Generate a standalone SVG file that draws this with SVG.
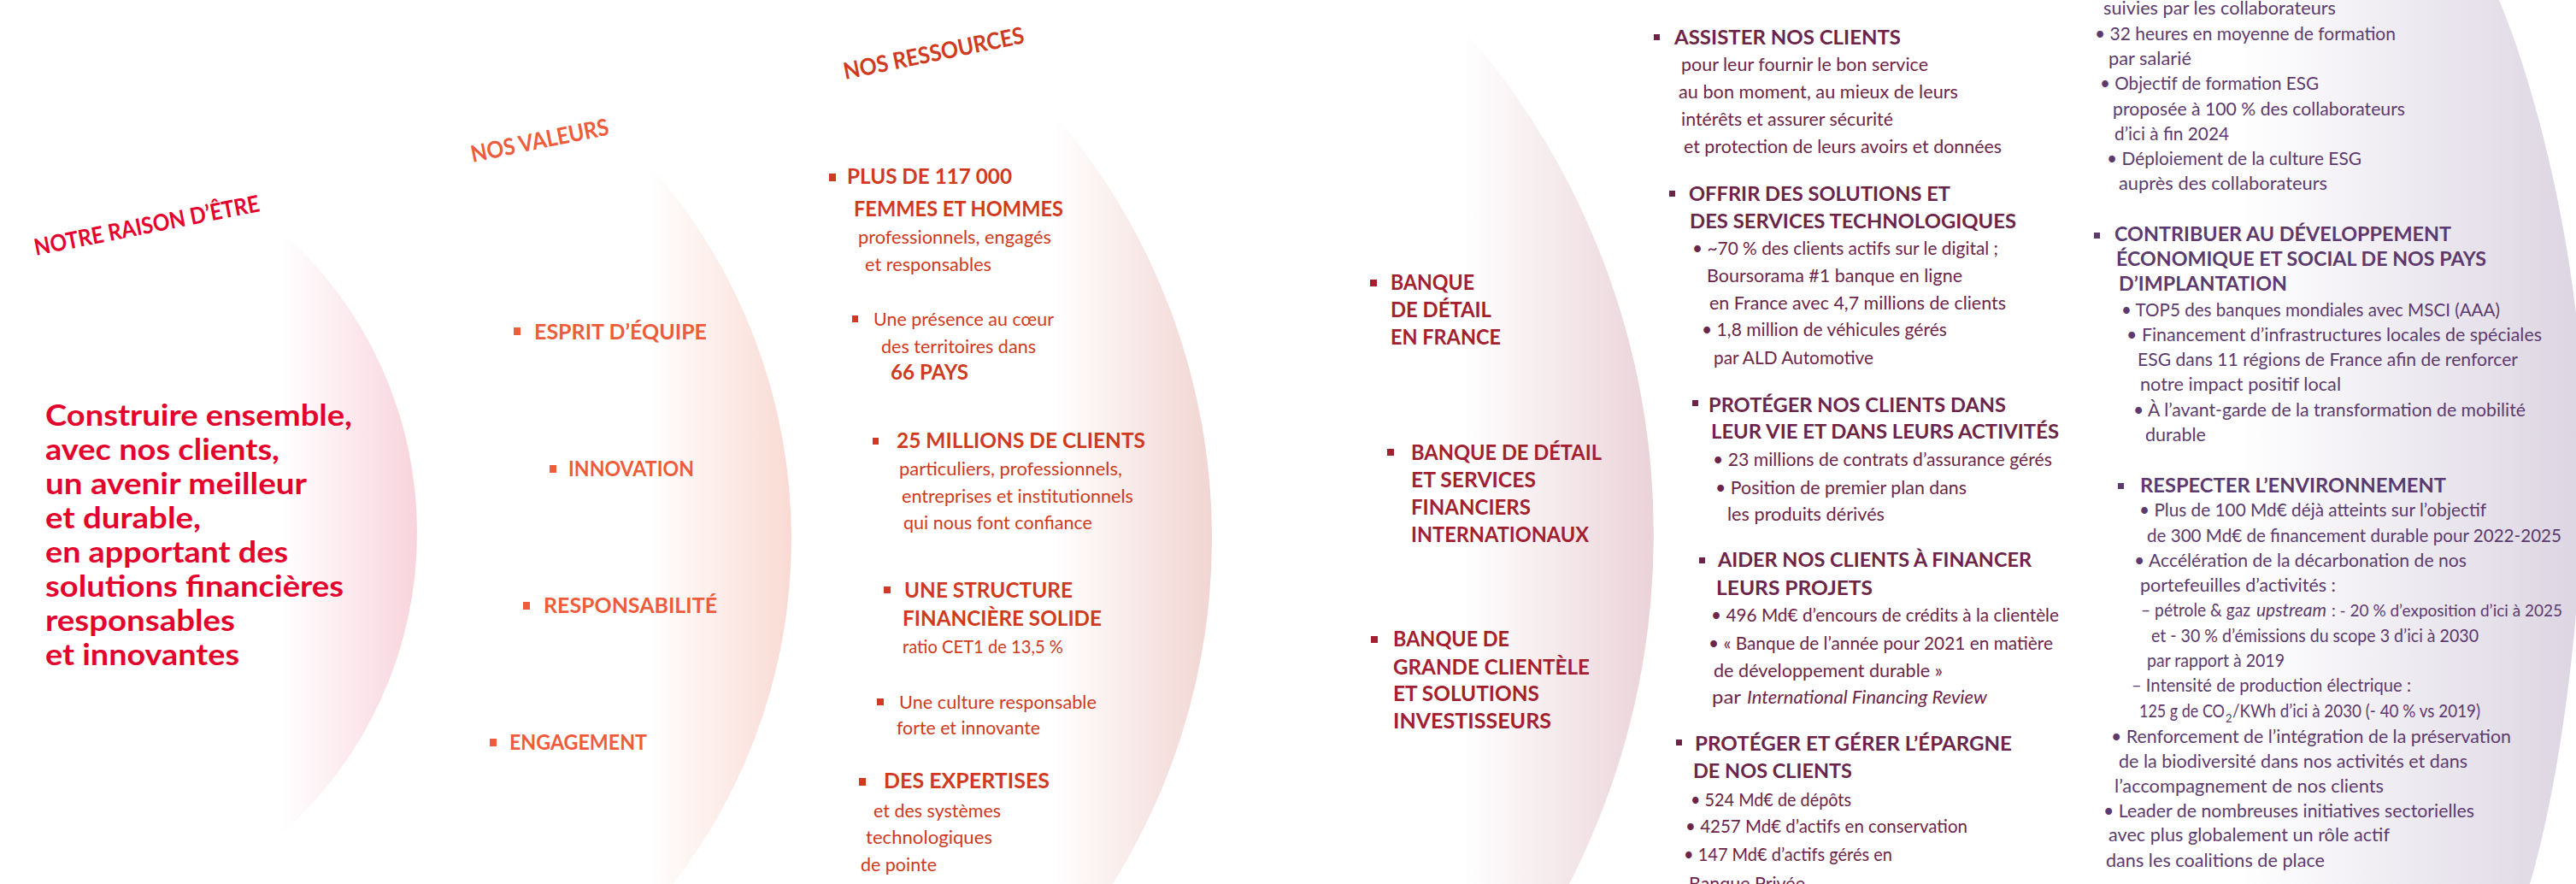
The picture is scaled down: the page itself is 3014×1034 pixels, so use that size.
<svg xmlns="http://www.w3.org/2000/svg" width="3014" height="1034" viewBox="0 0 3014 1034">
<style>
text { font-family: Lato, "Noto Sans", "Liberation Sans", sans-serif; }
.b { font-weight: 700; }
.main { font-size: 35px; font-weight: 700; fill: #E3032D; }
.lab { font-size: 27px; font-weight: 700; }
.h { font-size: 25px; font-weight: 700; }
.r { font-size: 22px; }
.h5 { font-size: 23px; font-weight: 700; }
.r5 { font-size: 21.5px; }
.c1 { fill: #E3032D; }
.c2 { fill: #EE5C3C; }
.c3 { fill: #CF3A21; }
.c4 { fill: #A2202F; }
.c5 { fill: #6C2549; }
.c6 { fill: #5C3A6E; }
.it { font-style: italic; }
</style>
<defs>
<linearGradient id="g1" gradientUnits="userSpaceOnUse" x1="328" y1="0" x2="489" y2="0"><stop offset="0" stop-color="#FFFFFF"/><stop offset="1" stop-color="#F8D4DD"/></linearGradient>
<linearGradient id="g2" gradientUnits="userSpaceOnUse" x1="759" y1="0" x2="926" y2="0"><stop offset="0" stop-color="#FFFFFF"/><stop offset="1" stop-color="#F9DAD3"/></linearGradient>
<linearGradient id="g3" gradientUnits="userSpaceOnUse" x1="1233" y1="0" x2="1418" y2="0"><stop offset="0" stop-color="#FFFFFF"/><stop offset="1" stop-color="#F1D5D2"/></linearGradient>
<linearGradient id="g4" gradientUnits="userSpaceOnUse" x1="1712" y1="0" x2="1935" y2="0"><stop offset="0" stop-color="#FFFFFF"/><stop offset="1" stop-color="#EAD3D8"/></linearGradient>
<linearGradient id="g5" gradientUnits="userSpaceOnUse" x1="2620" y1="0" x2="3020" y2="0"><stop offset="0" stop-color="#FFFFFF"/><stop offset="1" stop-color="#DCD5E2"/></linearGradient>
</defs>
<rect x="0" y="0" width="3014" height="1034" fill="#FFFFFF"/>
<g id="backgrounds">
<path d="M328,269.5 A470.5,470.5 0 0 1 328,976.5 Z" fill="url(#g1)"/>
<path d="M759,192 A658,658 0 0 1 759,1068 Z" fill="url(#g2)"/>
<path d="M1233,133 A760,760 0 0 1 1233,1127 Z" fill="url(#g3)"/>
<path d="M1712,34 A895,895 0 0 1 1712,1216 Z" fill="url(#g4)"/>
<path d="M2620,0 L2924,0 C2970,110 3016,300 3022,470 C3028,640 3005,880 2960,1034 L2620,1034 Z" fill="url(#g5)"/>
</g>
<g id="connectors"/>
<g id="raison-etre">
<text class="lab c1" transform="translate(42,299) rotate(-11.2)" textLength="268" lengthAdjust="spacingAndGlyphs">NOTRE RAISON D’ÊTRE</text>
<text class="main" x="53" y="498" textLength="359" lengthAdjust="spacingAndGlyphs">Construire ensemble,</text>
<text class="main" x="53" y="538" textLength="274" lengthAdjust="spacingAndGlyphs">avec nos clients,</text>
<text class="main" x="53" y="578" textLength="306" lengthAdjust="spacingAndGlyphs">un avenir meilleur</text>
<text class="main" x="53" y="618" textLength="182" lengthAdjust="spacingAndGlyphs">et durable,</text>
<text class="main" x="53" y="658" textLength="284" lengthAdjust="spacingAndGlyphs">en apportant des</text>
<text class="main" x="53" y="698" textLength="349" lengthAdjust="spacingAndGlyphs">solutions financières</text>
<text class="main" x="53" y="738" textLength="222" lengthAdjust="spacingAndGlyphs">responsables</text>
<text class="main" x="53" y="778" textLength="227" lengthAdjust="spacingAndGlyphs">et innovantes</text>
</g>
<g id="valeurs">
<text class="lab c2" transform="translate(553,190) rotate(-11.5)" textLength="164" lengthAdjust="spacingAndGlyphs">NOS VALEURS</text>
<rect class="c2" x="601" y="383" width="8" height="9"/>
<text class="h c2" x="625" y="397" textLength="202" lengthAdjust="spacingAndGlyphs">ESPRIT D’ÉQUIPE</text>
<rect class="c2" x="643" y="544" width="8" height="9"/>
<text class="h c2" x="665" y="557" textLength="147" lengthAdjust="spacingAndGlyphs">INNOVATION</text>
<rect class="c2" x="612" y="704" width="8" height="9"/>
<text class="h c2" x="636" y="717" textLength="203" lengthAdjust="spacingAndGlyphs">RESPONSABILITÉ</text>
<rect class="c2" x="573" y="864" width="8" height="9"/>
<text class="h c2" x="596" y="877" textLength="161" lengthAdjust="spacingAndGlyphs">ENGAGEMENT</text>
</g>
<g id="ressources">
<text class="lab c3" transform="translate(989,93) rotate(-11.5)" textLength="215" lengthAdjust="spacingAndGlyphs">NOS RESSOURCES</text>
<rect class="c3" x="970" y="203" width="8" height="9"/>
<text class="h c3" x="991" y="215" textLength="193" lengthAdjust="spacingAndGlyphs">PLUS DE 117 000</text>
<text class="h c3" x="999" y="253" textLength="245" lengthAdjust="spacingAndGlyphs">FEMMES ET HOMMES</text>
<text class="r c3" x="1004" y="285" textLength="226" lengthAdjust="spacingAndGlyphs">professionnels, engagés</text>
<text class="r c3" x="1012" y="317" textLength="148" lengthAdjust="spacingAndGlyphs">et responsables</text>
<rect class="c3" x="997" y="369" width="7" height="8"/>
<text class="r c3" x="1022" y="381" textLength="211" lengthAdjust="spacingAndGlyphs">Une présence au cœur</text>
<text class="r c3" x="1031" y="413" textLength="181" lengthAdjust="spacingAndGlyphs">des territoires dans</text>
<text class="h c3" x="1042" y="444" textLength="91" lengthAdjust="spacingAndGlyphs">66 PAYS</text>
<rect class="c3" x="1021" y="512" width="7" height="8"/>
<text class="h c3" x="1049" y="524" textLength="291" lengthAdjust="spacingAndGlyphs">25 MILLIONS DE CLIENTS</text>
<text class="r c3" x="1052" y="556" textLength="261" lengthAdjust="spacingAndGlyphs">particuliers, professionnels,</text>
<text class="r c3" x="1055" y="588" textLength="271" lengthAdjust="spacingAndGlyphs">entreprises et institutionnels</text>
<text class="r c3" x="1057" y="619" textLength="221" lengthAdjust="spacingAndGlyphs">qui nous font confiance</text>
<rect class="c3" x="1034" y="686" width="8" height="8"/>
<text class="h c3" x="1058" y="699" textLength="197" lengthAdjust="spacingAndGlyphs">UNE STRUCTURE</text>
<text class="h c3" x="1056" y="732" textLength="233" lengthAdjust="spacingAndGlyphs">FINANCIÈRE SOLIDE</text>
<text class="r c3" x="1056" y="764" textLength="188" lengthAdjust="spacingAndGlyphs">ratio CET1 de 13,5 %</text>
<rect class="c3" x="1026" y="817" width="8" height="8"/>
<text class="r c3" x="1052" y="829" textLength="231" lengthAdjust="spacingAndGlyphs">Une culture responsable</text>
<text class="r c3" x="1049" y="859" textLength="168" lengthAdjust="spacingAndGlyphs">forte et innovante</text>
<rect class="c3" x="1005" y="910" width="8" height="9"/>
<text class="h c3" x="1034" y="922" textLength="194" lengthAdjust="spacingAndGlyphs">DES EXPERTISES</text>
<text class="r c3" x="1022" y="956" textLength="149" lengthAdjust="spacingAndGlyphs">et des systèmes</text>
<text class="r c3" x="1013" y="987" textLength="148" lengthAdjust="spacingAndGlyphs">technologiques</text>
<text class="r c3" x="1007" y="1019" textLength="89" lengthAdjust="spacingAndGlyphs">de pointe</text>
</g>
<g id="metiers">
<rect class="c4" x="1603" y="327" width="8" height="8"/>
<text class="h c4" x="1627" y="339" textLength="98" lengthAdjust="spacingAndGlyphs">BANQUE</text>
<text class="h c4" x="1627" y="371" textLength="118" lengthAdjust="spacingAndGlyphs">DE DÉTAIL</text>
<text class="h c4" x="1627" y="403" textLength="129" lengthAdjust="spacingAndGlyphs">EN FRANCE</text>
<rect class="c4" x="1623" y="525" width="8" height="8"/>
<text class="h c4" x="1651" y="538" textLength="223" lengthAdjust="spacingAndGlyphs">BANQUE DE DÉTAIL</text>
<text class="h c4" x="1651" y="570" textLength="146" lengthAdjust="spacingAndGlyphs">ET SERVICES</text>
<text class="h c4" x="1651" y="602" textLength="140" lengthAdjust="spacingAndGlyphs">FINANCIERS</text>
<text class="h c4" x="1651" y="634" textLength="208" lengthAdjust="spacingAndGlyphs">INTERNATIONAUX</text>
<rect class="c4" x="1604" y="744" width="8" height="8"/>
<text class="h c4" x="1630" y="756" textLength="136" lengthAdjust="spacingAndGlyphs">BANQUE DE</text>
<text class="h c4" x="1630" y="789" textLength="230" lengthAdjust="spacingAndGlyphs">GRANDE CLIENTÈLE</text>
<text class="h c4" x="1630" y="820" textLength="171" lengthAdjust="spacingAndGlyphs">ET SOLUTIONS</text>
<text class="h c4" x="1630" y="852" textLength="185" lengthAdjust="spacingAndGlyphs">INVESTISSEURS</text>
</g>
<g id="engagements-clients">
<rect class="c5" x="1935" y="40" width="7" height="7"/>
<text class="h5 c5" x="1959" y="52" textLength="265" lengthAdjust="spacingAndGlyphs">ASSISTER NOS CLIENTS</text>
<text class="r5 c5" x="1967" y="83" textLength="289" lengthAdjust="spacingAndGlyphs">pour leur fournir le bon service</text>
<text class="r5 c5" x="1964" y="115" textLength="327" lengthAdjust="spacingAndGlyphs">au bon moment, au mieux de leurs</text>
<text class="r5 c5" x="1967" y="147" textLength="248" lengthAdjust="spacingAndGlyphs">intérêts et assurer sécurité</text>
<text class="r5 c5" x="1970" y="179" textLength="372" lengthAdjust="spacingAndGlyphs">et protection de leurs avoirs et données</text>
<rect class="c5" x="1953" y="223" width="7" height="7"/>
<text class="h5 c5" x="1976" y="235" textLength="306" lengthAdjust="spacingAndGlyphs">OFFRIR DES SOLUTIONS ET</text>
<text class="h5 c5" x="1977" y="267" textLength="382" lengthAdjust="spacingAndGlyphs">DES SERVICES TECHNOLOGIQUES</text>
<text class="r5 c5" x="1980" y="298" textLength="358" lengthAdjust="spacingAndGlyphs">• ~70 % des clients actifs sur le digital ;</text>
<text class="r5 c5" x="1997" y="330" textLength="299" lengthAdjust="spacingAndGlyphs">Boursorama #1 banque en ligne</text>
<text class="r5 c5" x="2000" y="362" textLength="347" lengthAdjust="spacingAndGlyphs">en France avec 4,7 millions de clients</text>
<text class="r5 c5" x="1991" y="393" textLength="287" lengthAdjust="spacingAndGlyphs">• 1,8 million de véhicules gérés</text>
<text class="r5 c5" x="2005" y="426" textLength="187" lengthAdjust="spacingAndGlyphs">par ALD Automotive</text>
<rect class="c5" x="1980" y="468" width="7" height="7"/>
<text class="h5 c5" x="1999" y="482" textLength="348" lengthAdjust="spacingAndGlyphs">PROTÉGER NOS CLIENTS DANS</text>
<text class="h5 c5" x="2002" y="513" textLength="407" lengthAdjust="spacingAndGlyphs">LEUR VIE ET DANS LEURS ACTIVITÉS</text>
<text class="r5 c5" x="2004" y="545" textLength="397" lengthAdjust="spacingAndGlyphs">• 23 millions de contrats d’assurance gérés</text>
<text class="r5 c5" x="2007" y="578" textLength="294" lengthAdjust="spacingAndGlyphs">• Position de premier plan dans</text>
<text class="r5 c5" x="2021" y="609" textLength="184" lengthAdjust="spacingAndGlyphs">les produits dérivés</text>
<rect class="c5" x="1988" y="652" width="7" height="7"/>
<text class="h5 c5" x="2010" y="663" textLength="367" lengthAdjust="spacingAndGlyphs">AIDER NOS CLIENTS À FINANCER</text>
<text class="h5 c5" x="2008" y="696" textLength="183" lengthAdjust="spacingAndGlyphs">LEURS PROJETS</text>
<text class="r5 c5" x="2002" y="727" textLength="407" lengthAdjust="spacingAndGlyphs">• 496 Md€ d’encours de crédits à la clientèle</text>
<text class="r5 c5" x="1999" y="760" textLength="403" lengthAdjust="spacingAndGlyphs">• « Banque de l’année pour 2021 en matière</text>
<text class="r5 c5" x="2005" y="792" textLength="268" lengthAdjust="spacingAndGlyphs">de développement durable »</text>
<text class="r5 c5" x="2003" y="823" textLength="34" lengthAdjust="spacingAndGlyphs">par</text>
<text class="r5 c5 it" x="2044" y="823" textLength="281" lengthAdjust="spacingAndGlyphs">International Financing Review</text>
<rect class="c5" x="1961" y="865" width="7" height="7"/>
<text class="h5 c5" x="1983" y="878" textLength="371" lengthAdjust="spacingAndGlyphs">PROTÉGER ET GÉRER L’ÉPARGNE</text>
<text class="h5 c5" x="1981" y="910" textLength="186" lengthAdjust="spacingAndGlyphs">DE NOS CLIENTS</text>
<text class="r5 c5" x="1978" y="943" textLength="188" lengthAdjust="spacingAndGlyphs">• 524 Md€ de dépôts</text>
<text class="r5 c5" x="1972" y="974" textLength="330" lengthAdjust="spacingAndGlyphs">• 4257 Md€ d’actifs en conservation</text>
<text class="r5 c5" x="1970" y="1007" textLength="244" lengthAdjust="spacingAndGlyphs">• 147 Md€ d’actifs gérés en</text>
<text class="r5 c5" x="1976" y="1041" textLength="136" lengthAdjust="spacingAndGlyphs">Banque Privée</text>
</g>
<g id="engagements-societe">
<text class="r5 c6" x="2461" y="17" textLength="272" lengthAdjust="spacingAndGlyphs">suivies par les collaborateurs</text>
<text class="r5 c6" x="2451" y="47" textLength="352" lengthAdjust="spacingAndGlyphs">• 32 heures en moyenne de formation</text>
<text class="r5 c6" x="2467" y="76" textLength="97" lengthAdjust="spacingAndGlyphs">par salarié</text>
<text class="r5 c6" x="2457" y="105" textLength="256" lengthAdjust="spacingAndGlyphs">• Objectif de formation ESG</text>
<text class="r5 c6" x="2472" y="135" textLength="342" lengthAdjust="spacingAndGlyphs">proposée à 100 % des collaborateurs</text>
<text class="r5 c6" x="2474" y="164" textLength="134" lengthAdjust="spacingAndGlyphs">d’ici à fin 2024</text>
<text class="r5 c6" x="2465" y="193" textLength="298" lengthAdjust="spacingAndGlyphs">• Déploiement de la culture ESG</text>
<text class="r5 c6" x="2479" y="222" textLength="244" lengthAdjust="spacingAndGlyphs">auprès des collaborateurs</text>
<rect class="c6" x="2450" y="272" width="7" height="7"/>
<text class="h5 c6" x="2474" y="282" textLength="394" lengthAdjust="spacingAndGlyphs">CONTRIBUER AU DÉVELOPPEMENT</text>
<text class="h5 c6" x="2476" y="311" textLength="433" lengthAdjust="spacingAndGlyphs">ÉCONOMIQUE ET SOCIAL DE NOS PAYS</text>
<text class="h5 c6" x="2479" y="340" textLength="197" lengthAdjust="spacingAndGlyphs">D’IMPLANTATION</text>
<text class="r5 c6" x="2482" y="370" textLength="443" lengthAdjust="spacingAndGlyphs">• TOP5 des banques mondiales avec MSCI (AAA)</text>
<text class="r5 c6" x="2488" y="399" textLength="486" lengthAdjust="spacingAndGlyphs">• Financement d’infrastructures locales de spéciales</text>
<text class="r5 c6" x="2501" y="428" textLength="445" lengthAdjust="spacingAndGlyphs">ESG dans 11 régions de France afin de renforcer</text>
<text class="r5 c6" x="2504" y="457" textLength="235" lengthAdjust="spacingAndGlyphs">notre impact positif local</text>
<text class="r5 c6" x="2496" y="487" textLength="459" lengthAdjust="spacingAndGlyphs">• À l’avant-garde de la transformation de mobilité</text>
<text class="r5 c6" x="2510" y="516" textLength="71" lengthAdjust="spacingAndGlyphs">durable</text>
<rect class="c6" x="2478" y="565" width="7" height="7"/>
<text class="h5 c6" x="2504" y="576" textLength="358" lengthAdjust="spacingAndGlyphs">RESPECTER L’ENVIRONNEMENT</text>
<text class="r5 c6" x="2503" y="604" textLength="406" lengthAdjust="spacingAndGlyphs">• Plus de 100 Md€ déjà atteints sur l’objectif</text>
<text class="r5 c6" x="2512" y="634" textLength="485" lengthAdjust="spacingAndGlyphs">de 300 Md€ de financement durable pour 2022-2025</text>
<text class="r5 c6" x="2497" y="663" textLength="389" lengthAdjust="spacingAndGlyphs">• Accélération de la décarbonation de nos</text>
<text class="r5 c6" x="2504" y="692" textLength="229" lengthAdjust="spacingAndGlyphs">portefeuilles d’activités :</text>
<text class="r5 c6" x="2505" y="721" textLength="128" lengthAdjust="spacingAndGlyphs">– pétrole &amp; gaz</text>
<text class="r5 c6 it" x="2640" y="721" textLength="82" lengthAdjust="spacingAndGlyphs">upstream</text>
<text class="c6" x="2728" y="721" font-size="19.5" textLength="270" lengthAdjust="spacingAndGlyphs">: - 20 % d’exposition d’ici à 2025</text>
<text class="r5 c6" x="2517" y="751" textLength="383" lengthAdjust="spacingAndGlyphs">et - 30 % d’émissions du scope 3 d’ici à 2030</text>
<text class="r5 c6" x="2512" y="780" textLength="161" lengthAdjust="spacingAndGlyphs">par rapport à 2019</text>
<text class="r5 c6" x="2494" y="809" textLength="327" lengthAdjust="spacingAndGlyphs">– Intensité de production électrique :</text>
<text class="r5 c6" x="2503" y="839" textLength="100" lengthAdjust="spacingAndGlyphs">125 g de CO</text>
<text class="c6" x="2604" y="845" font-size="13">2</text>
<text class="r5 c6" x="2612" y="839" textLength="290" lengthAdjust="spacingAndGlyphs">/KWh d’ici à 2030 (- 40 % vs 2019)</text>
<text class="r5 c6" x="2470" y="869" textLength="468" lengthAdjust="spacingAndGlyphs">• Renforcement de l’intégration de la préservation</text>
<text class="r5 c6" x="2479" y="898" textLength="408" lengthAdjust="spacingAndGlyphs">de la biodiversité dans nos activités et dans</text>
<text class="r5 c6" x="2474" y="927" textLength="315" lengthAdjust="spacingAndGlyphs">l’accompagnement de nos clients</text>
<text class="r5 c6" x="2461" y="956" textLength="434" lengthAdjust="spacingAndGlyphs">• Leader de nombreuses initiatives sectorielles</text>
<text class="r5 c6" x="2467" y="984" textLength="329" lengthAdjust="spacingAndGlyphs">avec plus globalement un rôle actif</text>
<text class="r5 c6" x="2464" y="1014" textLength="256" lengthAdjust="spacingAndGlyphs">dans les coalitions de place</text>
</g>
</svg>
